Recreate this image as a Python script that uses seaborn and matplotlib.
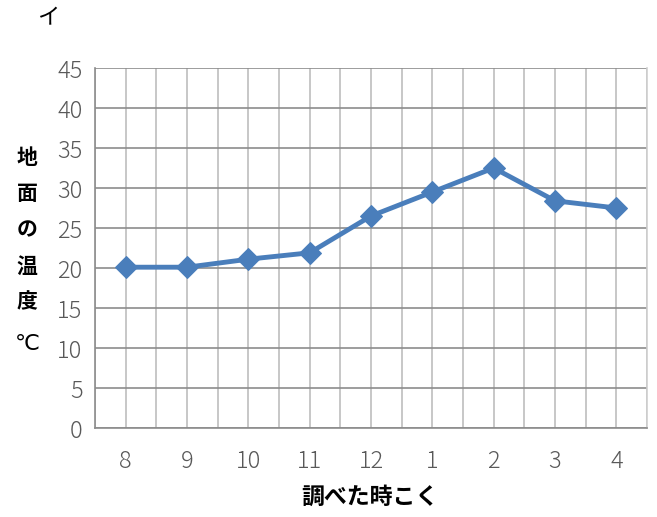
import matplotlib
matplotlib.use("Agg")
import matplotlib.pyplot as plt
import seaborn as sns
import pandas as pd
from matplotlib.ticker import MultipleLocator

# Data
times = ["8", "9", "10", "11", "12", "1", "2", "3", "4"]
temps = [20.1, 20.1, 21.1, 21.9, 26.5, 29.5, 32.5, 28.4, 27.5]

df = pd.DataFrame({"time": times, "temp": temps})

sns.set_style("white")
plt.rcParams["font.family"] = ["Noto Sans CJK JP", "DejaVu Sans"]

fig = plt.figure(figsize=(6.57, 5.17), dpi=100)
ax = fig.add_axes([95 / 657, 89 / 517, 552 / 657, 360 / 517])

line_color = "#4a7ebb"
sns.lineplot(
    data=df, x="time", y="temp", sort=False, ax=ax,
    color=line_color, linewidth=3.5,
    marker="D", markersize=11, markeredgecolor=line_color,
    zorder=3
)

ax.set_xlim(-0.5, len(times) - 0.5)
ax.set_ylim(0, 45)
ax.yaxis.set_major_locator(MultipleLocator(5))
ax.set_xticks(range(len(times)))
ax.set_xticklabels(times)
ax.xaxis.set_minor_locator(MultipleLocator(1, offset=0.5))

# grid
ax.grid(axis="y", which="major", color="#8c8c8c", linewidth=1.2)
ax.grid(axis="x", which="both", color="#bdbdbd", linewidth=1.2)
ax.set_axisbelow(True)

ax.spines["top"].set_visible(False)
ax.spines["right"].set_color("#cfcfcf")
ax.spines["right"].set_linewidth(1.2)
ax.spines["left"].set_color("#8c8c8c")
ax.spines["left"].set_linewidth(1.2)
ax.spines["bottom"].set_color("#8c8c8c")
ax.spines["bottom"].set_linewidth(1.2)

ax.tick_params(axis="y", which="major", length=5, color="#8c8c8c", width=1.2,
               labelsize=17, labelcolor="#595959", pad=4)
ax.tick_params(axis="x", which="major", length=5, color="#bdbdbd", width=1.2,
               labelsize=17, labelcolor="#595959", pad=10)
ax.tick_params(axis="x", which="minor", length=0)
for lbl in ax.get_xticklabels() + ax.get_yticklabels():
    lbl.set_fontweight("light")

ax.set_xlabel("")
ax.set_ylabel("")

# Y label, stacked characters
ylabel_chars = ["地", "面", "の", "温", "度"]
for i, ch in enumerate(ylabel_chars):
    fig.text(27 / 657, 1 - (158 + 36 * i) / 517, ch, fontsize=15, fontweight="bold",
             ha="center", va="center", color="black")
fig.text(27 / 657, 1 - 344 / 517, "℃", fontsize=16, ha="center", va="center",
         color="black", family=["DejaVu Sans"])

fig.text(370 / 657, 1 - 497 / 517, "調べた時こく", fontsize=16.5, fontweight="bold",
         ha="center", va="center", color="black")
fig.text(48 / 657, 1 - 18 / 517, "イ", fontsize=16, ha="center", va="center",
         color="black")

fig.savefig("out.png", dpi=100)
